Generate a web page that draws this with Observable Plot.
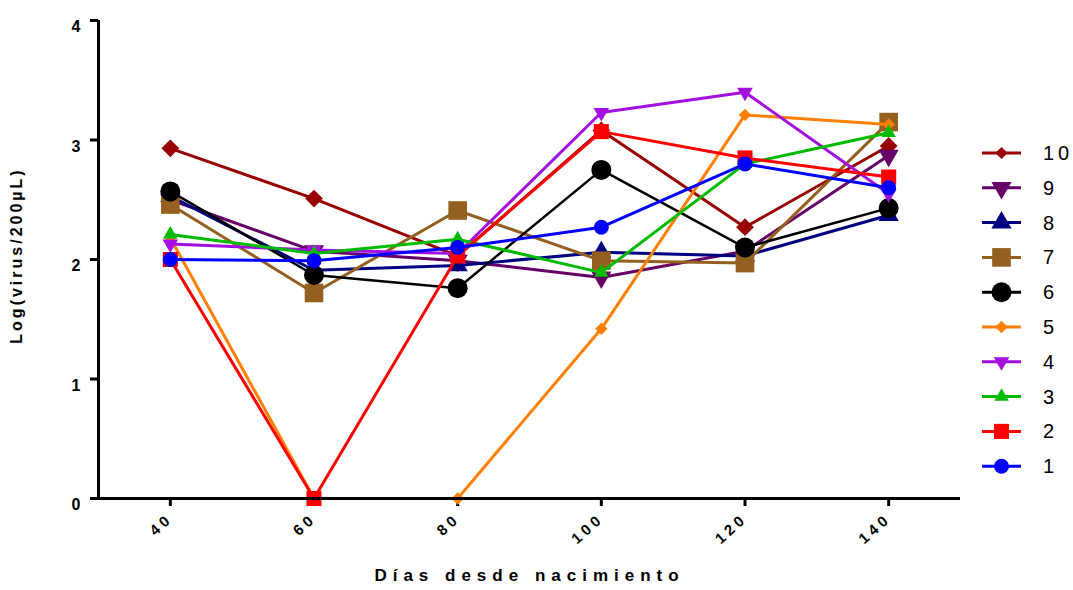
<!DOCTYPE html>
<html>
<head>
<meta charset="utf-8">
<script src="https://cdn.jsdelivr.net/npm/d3@7"></script>
<script src="https://cdn.jsdelivr.net/npm/@observablehq/plot@0.6"></script>
<style>
  html, body { margin: 0; padding: 0; background: #fff; }
  #wrap { position: relative; width: 1073px; height: 590px; }
  #legend { position: absolute; left: 0; top: 0; pointer-events: none; }
  text { font-family: "Liberation Sans", Arial, sans-serif; }
</style>
</head>
<body>
<div id="wrap"></div>
<script>
// ---- data ----
const days = [40, 60, 80, 100, 120, 140];
const yTicks = [0, 1, 2, 3, 4];
const seriesNames = ["10", "9", "8", "7", "6", "5", "4", "3", "2", "1"];
const s10 = [2.93, 2.51, 2.03, 3.08, 2.27, 2.95];
const s9  = [2.50, 2.07, 1.99, 1.85, 2.07, 2.87];
const s8  = [2.53, 1.91, 1.95, 2.06, 2.03, 2.37];
const s7  = [2.46, 1.72, 2.41, 1.99, 1.97, 3.15];
const s6  = [2.57, 1.87, 1.76, 2.75, 2.10, 2.43];
const s5  = [2.18, 0.00, 0.00, 1.42, 3.21, 3.13];
const s4  = [2.13, 2.08, 2.05, 3.23, 3.40, 2.55];
const s3  = [2.21, 2.05, 2.17, 1.89, 2.80, 3.06];
const s2  = [2.00, 0.00, 2.03, 3.07, 2.85, 2.69];
const s1  = [2.00, 1.99, 2.10, 2.27, 2.80, 2.60];
const seriesValues = [s10, s9, s8, s7, s6, s5, s4, s3, s2, s1];
const xLabel = "Días desde nacimiento";
const yLabel = "Log(virus/200µL)";

// ---- styles ----
const styles = {
  "10": {color: "#990000", symbol: "diamond2", r: 8,   rotate: 0,   sw: 3},
  "9":  {color: "#660066", symbol: "triangle", r: 7.5, rotate: 180, sw: 3},
  "8":  {color: "#000080", symbol: "triangle", r: 7.5, rotate: 0,   sw: 3},
  "7":  {color: "#93601f", symbol: "square",   r: 10.5, rotate: 0,  sw: 3},
  "6":  {color: "#000000", symbol: "circle",   r: 10,  rotate: 0,   sw: 2.5},
  "5":  {color: "#ff8000", symbol: "diamond2", r: 5.6, rotate: 0,   sw: 3},
  "4":  {color: "#a30fe0", symbol: "triangle", r: 5.8, rotate: 180, sw: 3},
  "3":  {color: "#00bb00", symbol: "triangle", r: 5.4, rotate: 0,   sw: 3},
  "2":  {color: "#ff0000", symbol: "square",   r: 8.5, rotate: 0,   sw: 3},
  "1":  {color: "#0000ff", symbol: "circle",   r: 7.5, rotate: 0,   sw: 3}
};

const table = [];
seriesNames.forEach((name, i) => {
  days.forEach((d, j) => table.push({series: name, day: d, value: seriesValues[i][j]}));
});

const seriesMarks = [];
seriesNames.forEach(name => {
  const st = styles[name];
  const rows = table.filter(r => r.series === name);
  seriesMarks.push(Plot.line(rows, {x: "day", y: "value", stroke: st.color, strokeWidth: st.sw}));
  seriesMarks.push(Plot.dot(rows, {x: "day", y: "value", fill: st.color, stroke: "none",
    symbol: st.symbol, r: st.r, rotate: st.rotate}));
});

const chart = Plot.plot({
  width: 1073,
  height: 590,
  marginLeft: 98,
  marginRight: 113,
  marginTop: 20,
  marginBottom: 92,
  x: {domain: [30, 150]},
  y: {domain: [0, 4]},
  style: {fontFamily: "'Liberation Sans', Arial, sans-serif", background: "#fff", color: "#000"},
  marks: [
    Plot.axisY({ticks: yTicks, tickSize: 8, tickPadding: 10, tickFormat: d => String(d),
      fontWeight: "bold", fontSize: 16, strokeWidth: 3, label: null}),
    Plot.axisX({ticks: days, tickSize: 8, tickPadding: 10, tickRotate: -42, tickFormat: d => String(d),
      fontWeight: "bold", fontSize: 15, strokeWidth: 3, label: null}),
    ...seriesMarks,
    Plot.ruleX([30], {y1: 0, y2: 4, strokeWidth: 3, stroke: "#000"}),
    Plot.ruleY([0], {x1: 30, x2: 150, strokeWidth: 3, stroke: "#000"}),
    Plot.text([xLabel], {frameAnchor: "bottom", dy: 82, fontSize: 17, fontWeight: "bold",
      textAnchor: "middle", text: d => d}),
    Plot.text([yLabel], {frameAnchor: "left", dx: -82, dy: -4, rotate: -90, fontSize: 16, fontWeight: "bold",
      textAnchor: "middle", text: d => d})
  ]
});

const sel = d3.select(chart);
sel.selectAll("g[aria-label='x-axis tick label'] text")
  .style("font-size", "15px").style("font-weight", "bold").style("letter-spacing", "4px");
sel.selectAll("g[aria-label='y-axis tick label'] text")
  .style("font-size", "16px").style("font-weight", "bold").attr("dy", "0.42em");
sel.selectAll("text").filter(function() { return this.textContent === xLabel; })
  .style("letter-spacing", "6px").style("font-size", "17px").style("font-weight", "bold");
sel.selectAll("text").filter(function() { return this.textContent === yLabel; })
  .style("letter-spacing", "3px").style("font-size", "16px").style("font-weight", "bold");

const wrap = document.getElementById("wrap");
wrap.appendChild(chart);

// ---- legend ----
const symMap = {circle: d3.symbolCircle, square: d3.symbolSquare, triangle: d3.symbolTriangle, diamond2: d3.symbolDiamond2};
const lg = d3.select(wrap).append("svg").attr("id", "legend").attr("width", 1073).attr("height", 590);
seriesNames.forEach((name, i) => {
  const st = styles[name];
  const y = 153 + i * 34.8;
  const g = lg.append("g").attr("transform", `translate(0,${y})`);
  g.append("line").attr("x1", 982).attr("x2", 1021).attr("y1", 0).attr("y2", 0)
    .attr("stroke", st.color).attr("stroke-width", 3);
  const lr = name === "10" ? 5.5 : st.r;
  g.append("path")
    .attr("d", d3.symbol(symMap[st.symbol], lr * lr * Math.PI)())
    .attr("transform", `translate(1001.5,0) rotate(${st.rotate})`)
    .attr("fill", st.color);
  g.append("text").attr("x", 1043).attr("y", 7).style("font-size", "20px")
    .style("letter-spacing", "4px").attr("fill", "#000").text(name);
});
</script>
</body>
</html>
